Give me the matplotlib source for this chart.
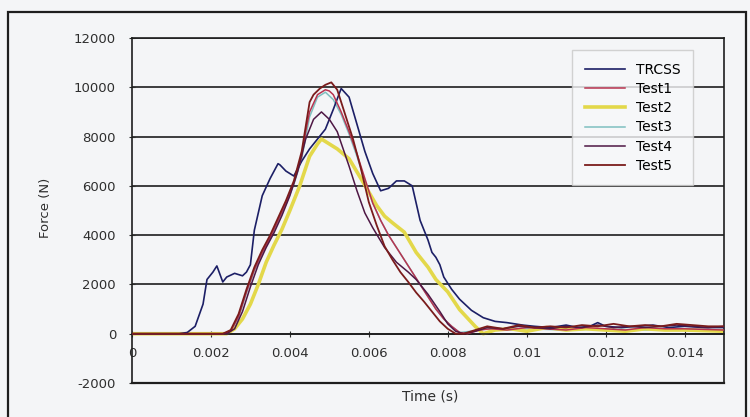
import matplotlib.pyplot as plt
from matplotlib.patches import Rectangle

# ----------------------------
# Data
# ----------------------------
t_trcss = [0, 0.0012, 0.0014, 0.0016, 0.0018, 0.0019, 0.00205, 0.00215, 0.0023, 0.0024,
           0.0026, 0.0028, 0.0029, 0.0030, 0.0031, 0.0033, 0.0035, 0.0037, 0.00375, 0.0039,
           0.0041, 0.0043, 0.0045, 0.0047, 0.0049, 0.0051, 0.0053, 0.0055, 0.0057, 0.0059,
           0.0061, 0.0063, 0.0065, 0.0067, 0.0069, 0.0071, 0.0073, 0.0075, 0.0076, 0.0077,
           0.0078, 0.0079, 0.0081, 0.0083, 0.0086, 0.0089, 0.0092, 0.0095, 0.0099, 0.0102,
           0.0106, 0.0110, 0.0113, 0.0116, 0.0118, 0.0120, 0.0124, 0.0128, 0.0132, 0.0136,
           0.0140, 0.0145, 0.0150]
f_trcss = [0, 0, 50, 300, 1200, 2200, 2500, 2750, 2100, 2300,
           2450, 2350, 2500, 2800, 4200, 5600, 6300, 6900, 6850, 6600,
           6400, 7000, 7500, 7900, 8300, 9100, 9950, 9600, 8500, 7400,
           6500, 5800, 5900, 6200, 6200, 6000, 4600, 3800, 3300, 3100,
           2800, 2300, 1800, 1400, 950, 650, 500, 450, 350, 300,
           250, 350, 250, 300, 450, 300, 250, 300, 350, 250,
           300, 250, 250]

t_test1 = [0, 0.0023, 0.0025, 0.0027, 0.0029, 0.0031, 0.0033, 0.0035, 0.0037, 0.0039,
           0.0041, 0.0043, 0.0044, 0.0045, 0.0047, 0.0049, 0.0050, 0.0051, 0.0053, 0.0055,
           0.0057, 0.0059, 0.0061, 0.0063, 0.0065, 0.0067, 0.0069, 0.0071, 0.0073, 0.0075,
           0.0077, 0.0079, 0.0081, 0.0083, 0.0085, 0.0088, 0.0091, 0.0095, 0.0100, 0.0105,
           0.0110, 0.0115, 0.0120, 0.0125, 0.0130, 0.0135, 0.0140, 0.0150]
f_test1 = [0, 0, 100, 700, 1700, 2600, 3300, 3900, 4600, 5300,
           6100, 7200, 8200, 9000, 9700, 9900, 9850, 9700, 9000, 8200,
           7300, 6300, 5300, 4600, 4000, 3500, 3000, 2500, 2000, 1500,
           1000, 600, 300, 50, 0, 150, 200, 150, 250, 200,
           150, 250, 200, 150, 250, 200, 200, 150]

t_test2 = [0, 0.0024, 0.0026, 0.0028, 0.0030, 0.0032, 0.0034, 0.0036, 0.0038, 0.0040,
           0.00425, 0.0045, 0.0047, 0.0048, 0.0050, 0.0052, 0.0055, 0.0058, 0.0060, 0.0062,
           0.0064, 0.0066, 0.0069, 0.0072, 0.0075, 0.0077, 0.0080, 0.0083, 0.0087, 0.0089,
           0.0092, 0.0096, 0.0100, 0.0105, 0.0110, 0.0115, 0.0120, 0.0125, 0.0130, 0.0135,
           0.0140, 0.0150]
f_test2 = [0, 0, 200, 600, 1200, 2000, 2900, 3600, 4240, 5000,
           6000, 7200, 7700, 7900, 7700, 7500, 7100, 6300, 5750, 5200,
           4770, 4500, 4120, 3300, 2700, 2200, 1700, 980, 290, 0,
           150, 200, 100, 250, 150, 200, 150, 100, 200, 150,
           150, 100]

t_test3 = [0, 0.0023, 0.0025, 0.0027, 0.0029, 0.0031, 0.0033, 0.0035, 0.0037, 0.0039,
           0.0041, 0.0043, 0.0045, 0.0047, 0.0049, 0.0051, 0.0053, 0.0055, 0.0057, 0.0059,
           0.0061, 0.0063, 0.0065, 0.0067, 0.0069, 0.0071, 0.0073, 0.0075, 0.0077, 0.0079,
           0.0081, 0.0083, 0.0086, 0.0090, 0.0095, 0.0100, 0.0110, 0.0120, 0.0130, 0.0140,
           0.0150]
f_test3 = [0, 0, 100, 650, 1650, 2550, 3250, 3850, 4550, 5250,
           6050, 7100, 8800, 9600, 9800, 9500, 8900, 8100, 7200, 6200,
           5300, 4600, 4000, 3500, 3000, 2500, 2000, 1500, 1000, 600,
           300, 50, 100, 200, 150, 200, 150, 200, 150, 200,
           150]

t_test4 = [0, 0.0024, 0.0026, 0.0028, 0.0030, 0.0032, 0.0034, 0.0036, 0.0038, 0.0040,
           0.0042, 0.0044, 0.0046, 0.0048, 0.0050, 0.0052, 0.0055, 0.0057, 0.0059, 0.0061,
           0.0064, 0.0067, 0.0070, 0.0072, 0.0075, 0.0078, 0.0080, 0.0082, 0.0084, 0.0087,
           0.0090, 0.0094, 0.0098, 0.0102, 0.0106, 0.0110, 0.0114, 0.0118, 0.0122, 0.0126,
           0.0130, 0.0134, 0.0138, 0.0142, 0.0146, 0.0150]
f_test4 = [0, 0, 200, 900, 1900, 2800, 3500, 4100, 4800, 5600,
           6600, 7900, 8700, 9000, 8700, 8200, 6800, 5800, 4900, 4300,
           3500, 2900, 2500, 2200, 1600, 900, 400, 100, 0, 100,
           250, 200, 300, 250, 200, 300, 250, 350, 250, 300,
           250, 300, 350, 300, 250, 300]

t_test5 = [0, 0.0023, 0.0025, 0.0027, 0.0029, 0.0031, 0.0033, 0.0035, 0.0037, 0.0039,
           0.0041, 0.0043, 0.0044, 0.0045, 0.0046, 0.00476, 0.0049, 0.00505, 0.0052, 0.0054,
           0.0056, 0.0058, 0.0060, 0.0062, 0.0064, 0.0066, 0.0068, 0.0070, 0.0072, 0.0074,
           0.0076, 0.0078, 0.0080, 0.0082, 0.0084, 0.0087, 0.0090, 0.0094, 0.0098, 0.0102,
           0.0106, 0.0110, 0.0114, 0.0118, 0.0122, 0.0126, 0.0130, 0.0134, 0.0138, 0.0142,
           0.0146, 0.0150]
f_test5 = [0, 0, 150, 800, 1800, 2700, 3400, 4000, 4700, 5400,
           6200, 7400, 8400, 9400, 9700, 9950, 10100, 10200, 9900, 8900,
           7900, 6700, 5340, 4400, 3550, 3000, 2500, 2100, 1670, 1300,
           900, 500, 200, 0, 0, 150, 300, 200, 350, 250,
           300, 250, 350, 300, 400, 300, 350, 300, 400, 350,
           300, 300]

series_names = ['TRCSS', 'Test1', 'Test2', 'Test3', 'Test4', 'Test5']
series_t = [t_trcss, t_test1, t_test2, t_test3, t_test4, t_test5]
series_f = [f_trcss, f_test1, f_test2, f_test3, f_test4, f_test5]
series_colors = ['#1c1f66', '#b8334f', '#e3d84a', '#7fc0c0', '#4e1744', '#7a1c1c']
series_widths = [1.2, 1.1, 2.6, 1.1, 1.1, 1.3]
series_z = [3, 4, 2, 1, 5, 6]

y_ticks = [-2000, 0, 2000, 4000, 6000, 8000, 10000, 12000]
x_ticks = [0, 0.002, 0.004, 0.006, 0.008, 0.01, 0.012, 0.014]
x_labels = ['0', '0.002', '0.004', '0.006', '0.008', '0.01', '0.012', '0.014']

# ----------------------------
# Plot
# ----------------------------
plt.rcParams['font.family'] = ['DejaVu Sans']
bg = '#f4f5f7'
txt = '#2e2e2e'

fig = plt.figure(figsize=(7.5, 4.17), dpi=100, facecolor=bg)
ax = fig.add_axes([132 / 750, 34 / 417, 592 / 750, 345 / 417], facecolor=bg)

for name, t, f, c, lw, z in zip(series_names, series_t, series_f,
                                series_colors, series_widths, series_z):
    ax.plot(t, f, color=c, lw=lw, label=name, zorder=z)

ax.set_xlim(0, 0.015)
ax.set_ylim(-2000, 12000)
ax.set_yticks(y_ticks)
ax.set_yticklabels([str(v) for v in y_ticks])
ax.set_xticks(x_ticks)
ax.set_xticklabels(x_labels)

ax.grid(axis='y', color='#1e1e1e', lw=1.2, zorder=0.5)
ax.spines['bottom'].set_position(('data', 0))
for s in ax.spines.values():
    s.set_color('#1e1e1e')
    s.set_linewidth(1.2)
ax.axhline(-2000, color='#1e1e1e', lw=1.6, clip_on=False)

ax.tick_params(axis='y', direction='inout', length=5, pad=9, labelsize=9.5,
               colors=txt)
ax.tick_params(axis='x', direction='inout', length=5, pad=7, labelsize=9.5,
               colors=txt)

fig.text(45 / 750, 1 - 208 / 417, 'Force (N)', fontsize=9.5, color=txt,
         rotation=90, ha='center', va='center')
fig.text(430 / 750, 1 - 396 / 417, 'Time (s)', fontsize=10, color=txt,
         ha='center', va='center')

leg = ax.legend(loc='upper right', bbox_to_anchor=(0.948, 0.965), borderaxespad=0,
                fontsize=10, frameon=True, fancybox=False, handlelength=2.9,
                labelspacing=0.38, borderpad=0.9, handletextpad=0.8)
leg.get_frame().set_edgecolor('#c8c8c8')
leg.get_frame().set_facecolor('#f7f8fa')
leg.get_frame().set_linewidth(1.0)
leg.set_zorder(10)

# outer chart border
fig.patches.append(Rectangle((8 / 750, -0.05), 738 / 750, 1 - 12 / 417 + 0.05,
                             transform=fig.transFigure, fill=False,
                             edgecolor='#1e1e1e', lw=1.6))

plt.savefig('out.png', dpi=100, facecolor=bg)
plt.close()
